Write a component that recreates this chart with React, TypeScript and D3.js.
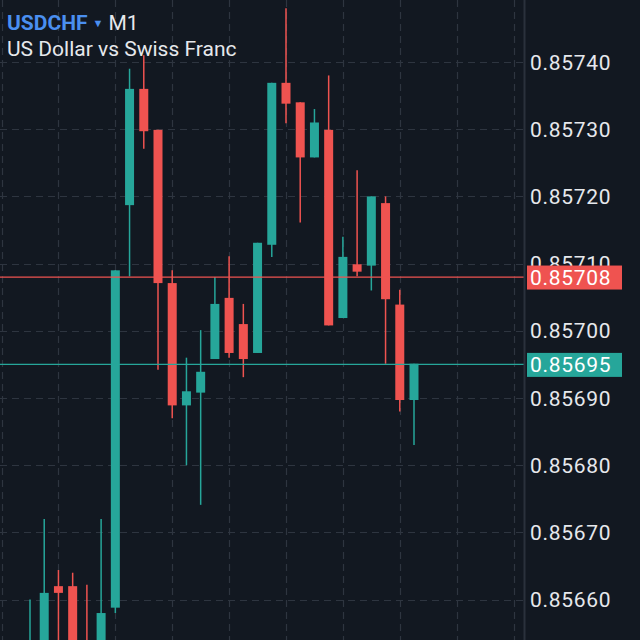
import React from "react";
import * as d3 from "d3";

const symbol = "USDCHF";
const timeframe = "M1";
const description = "US Dollar vs Swiss Franc";

// OHLC per candle (one-minute bars)
const opens = [0.85645, 0.8565, 0.85662, 0.85662, 0.85652, 0.8565, 0.856588, 0.857187, 0.85736, 0.857299, 0.857071, 0.856889, 0.856908, 0.856958, 0.857049, 0.85701, 0.856967, 0.857128, 0.857369, 0.85734, 0.857258, 0.857299, 0.857019, 0.857099, 0.857097, 0.85719, 0.857039, 0.856897];
const highs = [0.8566, 0.85672, 0.856644, 0.85664, 0.856622, 0.85672, 0.85709, 0.85739, 0.85741, 0.857299, 0.85709, 0.85696, 0.857001, 0.85708, 0.857111, 0.85704, 0.857131, 0.857369, 0.85748, 0.85734, 0.85733, 0.85738, 0.85714, 0.857239, 0.8572, 0.8572, 0.857061, 0.856951];
const lows = [0.85642, 0.85647, 0.8565, 0.85645, 0.85645, 0.85647, 0.85658, 0.857081, 0.857271, 0.856942, 0.85687, 0.8568, 0.856741, 0.856958, 0.85696, 0.856931, 0.856967, 0.85711, 0.857309, 0.857161, 0.857258, 0.857008, 0.857019, 0.857081, 0.85706, 0.856951, 0.85688, 0.85683];
const closes = [0.85653, 0.85661, 0.85661, 0.85648, 0.85648, 0.85658, 0.85709, 0.85736, 0.857297, 0.857071, 0.856889, 0.85691, 0.856939, 0.85704, 0.856967, 0.856958, 0.857131, 0.857369, 0.857338, 0.857258, 0.85731, 0.857008, 0.85711, 0.857088, 0.8572, 0.857047, 0.856897, 0.856951];

const yTicks = [0.8566, 0.8567, 0.8568, 0.8569, 0.857, 0.8571, 0.8572, 0.8573, 0.8574];
const askPrice = 0.85708;
const bidPrice = 0.85695;

const BG = "#121821";
const GRID = "#2e3540";
const UP = "#26a69a";
const DOWN = "#ef5350";
const TEXT = "#e6e8ec";

export default function App() {
  const W = 640;
  const H = 640;
  const plotRight = 524;

  const x = d3.scaleLinear().domain([0, opens.length - 1]).range([30, 414]);
  const y = d3.scaleLinear().domain([0.8566, 0.8574]).range([599.6, 62]);

  const gridIdx = d3.range(-2, 35, 4);
  const bodyW = 9;

  const candles = opens.map((o, i) => ({
    i,
    o,
    h: highs[i],
    l: lows[i],
    c: closes[i],
    up: closes[i] >= o,
  }));

  return (
    <div style={{ position: "fixed", left: 0, top: 0, width: W, height: H }}>
      <svg width={W} height={H} style={{ display: "block", fontFamily: "Roboto, 'Noto Sans', sans-serif" }}>
        <rect x={0} y={0} width={W} height={H} fill={BG} />
        <defs>
          <clipPath id="plot">
            <rect x={0} y={0} width={plotRight} height={H} />
          </clipPath>
        </defs>
        {/* grid */}
        <g stroke={GRID} strokeWidth={1.2} strokeDasharray="7,5">
          {gridIdx.map((g) => (
            <line key={"v" + g} x1={Math.round(x(g)) + 0.5} x2={Math.round(x(g)) + 0.5} y1={0} y2={H} />
          ))}
          {yTicks.map((t) => (
            <line key={"h" + t} x1={0} x2={plotRight} y1={Math.round(y(t)) + 0.5} y2={Math.round(y(t)) + 0.5} />
          ))}
        </g>
        {/* candles */}
        <g clipPath="url(#plot)">
          {candles.map((d) => {
            const col = d.up ? UP : DOWN;
            const cx = x(d.i);
            const top = y(Math.max(d.o, d.c));
            const bot = y(Math.min(d.o, d.c));
            return (
              <g key={d.i}>
                <line x1={cx} x2={cx} y1={y(d.h)} y2={y(d.l)} stroke={col} strokeWidth={1.5} />
                <rect x={cx - bodyW / 2} y={top} width={bodyW} height={Math.max(2, bot - top)} fill={col} />
              </g>
            );
          })}
          <line x1={0} x2={plotRight} y1={y(askPrice)} y2={y(askPrice)} stroke={DOWN} strokeWidth={1.2} />
          <line x1={0} x2={plotRight} y1={y(bidPrice)} y2={y(bidPrice)} stroke={UP} strokeWidth={1.2} />
        </g>
        {/* axis separator */}
        <line x1={plotRight + 0.5} x2={plotRight + 0.5} y1={0} y2={H} stroke="#2a313c" strokeWidth={2} />
        {/* y axis labels */}
        <g fill={TEXT} fontSize={21}>
          {yTicks.map((t) => (
            <text key={t} x={530} y={y(t)} dy="0.36em" letterSpacing={0.7}>
              {d3.format(".5f")(t)}
            </text>
          ))}
        </g>
        {/* price tags */}
        {[
          { p: askPrice, c: DOWN },
          { p: bidPrice, c: UP },
        ].map((tag) => (
          <g key={tag.p}>
            <rect x={527} y={y(tag.p) - 11.5} width={95} height={24} fill={tag.c} />
            <text x={530} y={y(tag.p)} dy="0.36em" fill="#ffffff" fontSize={21} letterSpacing={0.7}>
              {d3.format(".5f")(tag.p)}
            </text>
          </g>
        ))}
        {/* title */}
        <text x={7} y={30} fontSize={21}>
          <tspan fill="#4a8ff0" fontWeight={700}>{symbol}</tspan>
          <tspan fill="#4a8ff0" fontSize={11} dx={5} dy={-3}>▼</tspan>
          <tspan fill={TEXT} dx={5} dy={3}>{timeframe}</tspan>
        </text>
        <text x={7} y={56} fontSize={21} fill={TEXT}>
          {description}
        </text>
      </svg>
    </div>
  );
}
